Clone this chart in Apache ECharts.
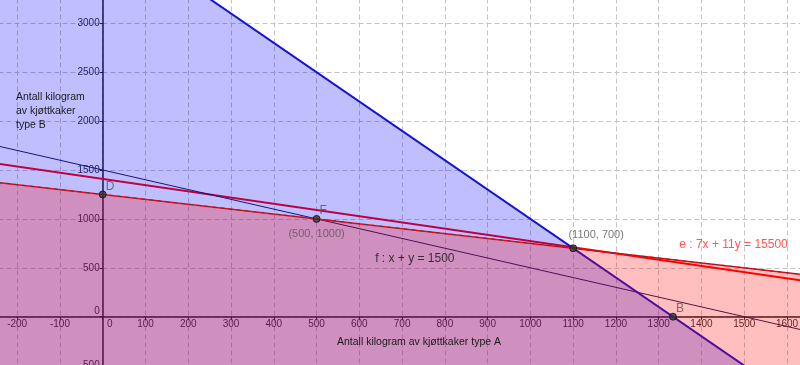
<!DOCTYPE html>
<html>
<head>
<meta charset="utf-8">
<script src="https://cdn.jsdelivr.net/npm/echarts@6/dist/echarts.min.js"></script>
<style>html,body{margin:0;padding:0;background:#fff}#c{width:800px;height:365px}</style>
</head>
<body>
<div id="c"></div>
<script>
// Axis extents and tick steps
const xMin = -300, xMax = 1700, xStep = 100;
const yMin = -500, yMax = 3500, yStep = 500;

// Boundary lines (two points each, spanning the view)
const blueBoundary = [[-300, 4900], [1700, -1100]];   // 3x + y = 4000
const redBoundary  = [[-300, 1400], [1700, 400]];     // x + 2y = 2500
const lineE        = [[-300, 1600], [1700, 327.3]];   // 7x + 11y = 15500
const lineF        = [[-300, 1800], [1700, -200]];    // x + y = 1500

// Named points
const pointNames = ['D', 'F', '', 'B'];
const pointValues = [[0, 1250], [500, 1000], [1100, 700], [1333.3, 0]];

// Coordinate labels
const coordTexts = ['(500, 1000)', '(1100, 700)'];
const coordAt = [[500, 1000], [1100, 700]];

// Equation labels
const eqTexts = ['f : x + y = 1500', 'e : 7x + 11y = 15500'];
const eqAt = [[637, 593], [1348, 740]];
const eqColors = ['#111111', '#ff2a2a'];

const xTitle = 'Antall kilogram av kjøttkaker type A';
const yTitle = 'Antall kilogram\nav kjøttkaker\ntype B';

const FONT = 'Liberation Sans';
const chart = echarts.init(document.getElementById('c'), null, {renderer: 'canvas'});

const gridLine = {show: true, lineStyle: {color: '#c4c4c4', width: 1, type: [5, 3]}};

chart.setOption({
  animation: false,
  backgroundColor: '#ffffff',
  title: [
    {text: xTitle, left: 337, top: 337, padding: 0,
     textStyle: {fontFamily: FONT, fontSize: 10.5, fontWeight: 'normal', color: '#1a1a1a'}},
    {text: yTitle, left: 16, top: 90, padding: 0,
     textStyle: {fontFamily: FONT, fontSize: 10.5, fontWeight: 'normal', color: '#1a1a1a', lineHeight: 14}}
  ],
  grid: {left: -25.6, right: -29.8, top: -25.6, bottom: -0.6, containLabel: false, outerBoundsMode: 'none'},
  xAxis: {
    type: 'value', min: xMin, max: xMax, interval: xStep, position: 'bottom',
    axisLine: {onZero: false, lineStyle: {color: '#222', width: 1.5}},
    axisTick: {show: true, length: 3, lineStyle: {color: '#222'}},
    splitLine: gridLine,
    axisLabel: {
      margin: 3, fontFamily: FONT, fontSize: 10, color: '#333',
      formatter: v => v === 0 ? '{z|0}' : String(v),
      rich: {z: {padding: [0, 0, 0, 14], fontFamily: FONT, fontSize: 10, color: '#333'}}
    }
  },
  yAxis: {
    type: 'value', min: yMin, max: yMax, interval: yStep, position: 'left',
    axisLine: {onZero: false, lineStyle: {color: '#222', width: 1.5}},
    axisTick: {show: true, length: 3, lineStyle: {color: '#222'}},
    splitLine: gridLine,
    axisLabel: {
      margin: 3, fontFamily: FONT, fontSize: 10, color: '#333',
      formatter: v => v === 0 ? '{z|0}' : String(v),
      rich: {z: {padding: [0, 0, 10, 0], fontFamily: FONT, fontSize: 10, color: '#333'}}
    }
  },
  series: [
    {type: 'line', z: 1, data: lineE, symbol: 'none', silent: true,
     lineStyle: {color: '#ff0000', width: 2}},
    {type: 'line', z: 1, data: lineF, symbol: 'none', silent: true,
     lineStyle: {color: '#1c1c4c', width: 1}},
    {type: 'line', z: 2, data: blueBoundary, symbol: 'none', silent: true,
     lineStyle: {color: '#1414cc', width: 2},
     areaStyle: {color: 'rgba(0,0,255,0.25)', opacity: 1, origin: 'start'}},
    {type: 'line', z: 3, data: redBoundary, symbol: 'none', silent: true,
     lineStyle: {color: '#ff0000', width: 1.5},
     areaStyle: {color: 'rgba(255,0,0,0.25)', opacity: 1, origin: 'start'}},
    {type: 'line', z: 4, data: redBoundary, symbol: 'none', silent: true,
     lineStyle: {color: '#3c3c66', width: 1, type: [4, 4]}},
    {type: 'scatter', z: 5, symbol: 'circle', symbolSize: 7, silent: true,
     itemStyle: {color: '#333333', borderColor: '#111', borderWidth: 1},
     data: pointValues.map((v, i) => ({value: v, name: pointNames[i]})),
     label: {show: true, position: [7, -10], formatter: p => p.name,
             fontFamily: FONT, fontSize: 12, color: '#555'}},
    {type: 'scatter', z: 5, symbolSize: 0, silent: true,
     data: coordAt.map((v, i) => ({value: v, name: coordTexts[i],
       label: i === 0 ? {position: 'bottom', distance: 10, offset: [0, 0]}
                      : {position: 'top', distance: 8, offset: [23, 0]}})),
     label: {show: true, formatter: p => p.name, fontFamily: FONT, fontSize: 11, color: '#555'}},
    {type: 'scatter', z: 5, symbolSize: 0, silent: true,
     data: eqAt.map((v, i) => ({value: v, name: eqTexts[i], label: {color: eqColors[i]}})),
     label: {show: true, position: 'right', distance: 0, formatter: p => p.name,
             fontFamily: FONT, fontSize: 12}}
  ]
});

// Move both axes (line + labels) onto the zero lines using the library's own scales
const origin = chart.convertToPixel({gridIndex: 0}, [0, 0]);
const corner = chart.convertToPixel({gridIndex: 0}, [xMin, yMin]);
chart.setOption({
  xAxis: {offset: origin[1] - corner[1]},
  yAxis: {offset: corner[0] - origin[0]}
});
</script>
</body>
</html>
